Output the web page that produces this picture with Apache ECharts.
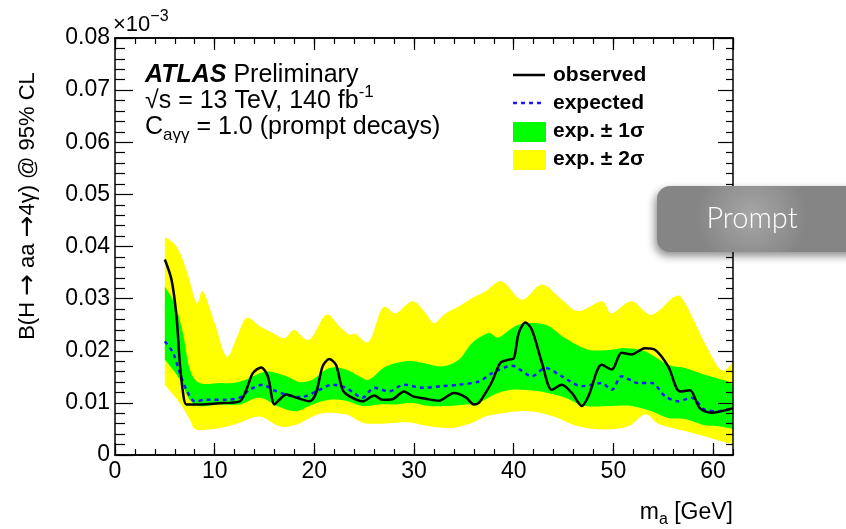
<!DOCTYPE html>
<html><head><meta charset="utf-8">
<script src="https://cdn.jsdelivr.net/npm/echarts@6/dist/echarts.min.js"></script>
<style>html,body{margin:0;padding:0;background:#fff}#c{width:846px;height:529px}</style>
</head><body><div id="c"></div>
<script>
// ---- data (x = m_a [GeV], y = branching ratio limit) ----
const xTickLabels = ['0','10','20','30','40','50','60'];
const yTickLabels = ['0','0.01','0.02','0.03','0.04','0.05','0.06','0.07','0.08'];

const yellowHi = [[5.0,0.0418],[6.17,0.0400],[7.17,0.0355],[8.17,0.0292],[8.83,0.0314],[10.0,0.0253],[11.17,0.0189],[12.2,0.0225],[13.17,0.0263],[14.5,0.0247],[15.83,0.0234],[17.0,0.0224],[18.0,0.0240],[19.5,0.0221],[21.17,0.0269],[22.5,0.0247],[23.5,0.0231],[24.17,0.0232],[25.5,0.0218],[26.83,0.0282],[28.17,0.0272],[29.83,0.0295],[31.17,0.0272],[32.0,0.0253],[33.17,0.0272],[34.5,0.0285],[35.83,0.0301],[37.17,0.0314],[38.83,0.0333],[40.83,0.0298],[42.83,0.0327],[44.83,0.0298],[46.5,0.0276],[48.83,0.0295],[49.83,0.0272],[51.83,0.0295],[53.83,0.0269],[56.17,0.0304],[57.17,0.0292],[59.17,0.0215],[60.8,0.0163],[62.0,0.0178]];
const yellowLo = [[5.0,0.0135],[6.5,0.0100],[7.5,0.0068],[8.17,0.0049],[10.5,0.0052],[12.5,0.0062],[14.5,0.0074],[16.5,0.0055],[18.17,0.0058],[19.83,0.0074],[21.17,0.0081],[23.17,0.0078],[24.83,0.0062],[26.5,0.0060],[28.17,0.0062],[29.83,0.0062],[31.5,0.0055],[33.83,0.0052],[35.83,0.0062],[37.17,0.0074],[39.17,0.0081],[41.5,0.0084],[43.83,0.0075],[46.5,0.0055],[49.17,0.0049],[51.5,0.0055],[53.2,0.0078],[54.5,0.0060],[57.17,0.0046],[59.17,0.0036],[61.0,0.0025],[62.0,0.0022]];
const greenHi = [[5.0,0.0323],[6.0,0.0290],[6.8,0.0235],[7.5,0.0165],[8.5,0.0138],[10.5,0.0138],[11.83,0.0138],[13.17,0.0145],[15.17,0.0160],[17.17,0.0151],[18.5,0.0140],[19.83,0.0145],[21.5,0.0167],[23.17,0.0164],[24.5,0.0151],[25.5,0.0145],[27.17,0.0170],[29.17,0.0180],[30.83,0.0177],[32.83,0.0170],[34.5,0.0183],[35.83,0.0215],[37.5,0.0234],[38.5,0.0226],[40.5,0.0250],[43.17,0.0250],[45.17,0.0224],[47.5,0.0202],[49.83,0.0202],[51.17,0.0205],[53.17,0.0199],[55.5,0.0173],[57.17,0.0167],[59.17,0.0154],[61.5,0.0141],[62.0,0.0132]];
const greenLo = [[5.0,0.0183],[6.5,0.0145],[7.5,0.0106],[8.5,0.0094],[10.5,0.0097],[12.5,0.0097],[14.5,0.0110],[16.5,0.0092],[18.17,0.0084],[19.83,0.0097],[21.5,0.0106],[23.17,0.0104],[24.83,0.0094],[26.5,0.0097],[28.17,0.0097],[29.83,0.0100],[31.5,0.0094],[33.17,0.0094],[35.17,0.0097],[36.5,0.0100],[38.17,0.0117],[39.83,0.0125],[41.5,0.0124],[43.17,0.0120],[45.17,0.0110],[47.17,0.0094],[49.83,0.0094],[51.83,0.0094],[53.83,0.0084],[55.5,0.0071],[57.17,0.0069],[59.17,0.0057],[60.5,0.0055],[62.0,0.0050]];
const expected = [[5.0,0.0218],[5.83,0.0196],[6.5,0.0157],[7.17,0.0125],[8.0,0.0103],[9.17,0.0106],[11.17,0.0106],[12.5,0.0110],[13.5,0.0125],[14.83,0.0135],[15.83,0.0125],[17.17,0.0116],[18.7,0.0111],[20.17,0.0122],[21.83,0.0135],[23.17,0.0129],[24.83,0.0110],[26.0,0.0129],[27.5,0.0122],[29.0,0.0135],[30.83,0.0129],[32.83,0.0132],[34.5,0.0135],[36.5,0.0141],[37.83,0.0157],[39.83,0.0171],[41.83,0.0151],[43.17,0.0167],[44.83,0.0151],[46.83,0.0132],[48.83,0.0138],[49.83,0.0125],[50.83,0.0151],[52.5,0.0138],[53.83,0.0138],[55.17,0.0113],[56.5,0.0103],[57.83,0.0110],[59.17,0.0087],[60.5,0.0084],[62.0,0.0090]];
const observed = [[5.0,0.0375],[5.67,0.0336],[6.17,0.0266],[6.5,0.0177],[6.83,0.0119],[7.17,0.0097],[8.5,0.0097],[10.17,0.0099],[12.5,0.0103],[13.17,0.0125],[13.83,0.0157],[14.67,0.0168],[15.33,0.0151],[16.0,0.0097],[16.5,0.0106],[17.17,0.0116],[18.17,0.0110],[19.5,0.0103],[20.17,0.0119],[20.83,0.0170],[21.5,0.0184],[22.17,0.0173],[22.83,0.0125],[23.5,0.0113],[24.83,0.0103],[26.0,0.0114],[26.83,0.0106],[27.83,0.0107],[29.0,0.0122],[29.83,0.0113],[31.17,0.0108],[32.5,0.0104],[34.0,0.0119],[35.17,0.0111],[36.0,0.0097],[36.5,0.0100],[37.17,0.0119],[37.83,0.0141],[38.67,0.0177],[39.5,0.0183],[40.0,0.0185],[40.5,0.0234],[41.17,0.0254],[41.83,0.0240],[42.83,0.0177],[43.83,0.0125],[44.83,0.0135],[45.83,0.0119],[46.83,0.0094],[47.5,0.0113],[48.83,0.0173],[49.83,0.0164],[50.83,0.0196],[51.83,0.0193],[53.17,0.0205],[54.17,0.0202],[55.5,0.0170],[56.67,0.0122],[57.67,0.0124],[58.67,0.0090],[59.83,0.0081],[62.0,0.0090]];

// ---- helpers ----
const FONT = '"Liberation Sans", Arial, Helvetica, sans-serif';
const ctx = document.createElement('canvas').getContext('2d');
function fontStr(s) { return (s.style||'normal') + ' ' + (s.w||'normal') + ' ' + s.size + 'px ' + (s.f||FONT); }
function tw(s) { ctx.font = fontStr(s); return ctx.measureText(s.t).width; }
function seqW(segs) { return segs.reduce((a, s) => a + tw(s), 0); }
function seq(x, y, segs, z) {
  const out = []; let cx = x;
  segs.forEach(s => {
    out.push({type:'text', x: cx, y: y + (s.dy||0), z: z||20, style:{text:s.t, fill:s.c||'#000', font:fontStr(s), verticalAlign:'middle', align:'left'}});
    cx += tw(s);
  });
  return out;
}
function crPath(pts, move) {
  let d = (move ? 'M' : 'L') + pts[0][0].toFixed(2) + ',' + pts[0][1].toFixed(2);
  for (let i = 0; i < pts.length - 1; i++) {
    const p0 = pts[i-1] || pts[i], p1 = pts[i], p2 = pts[i+1], p3 = pts[i+2] || pts[i+1];
    const k = 1/6;
    const c1 = [p1[0] + (p2[0]-p0[0])*k, p1[1] + (p2[1]-p0[1])*k];
    const c2 = [p2[0] - (p3[0]-p1[0])*k, p2[1] - (p3[1]-p1[1])*k];
    d += ' C' + c1[0].toFixed(2) + ',' + c1[1].toFixed(2) + ' ' + c2[0].toFixed(2) + ',' + c2[1].toFixed(2) + ' ' + p2[0].toFixed(2) + ',' + p2[1].toFixed(2);
  }
  return d;
}
function bandSeries(hi, lo, color, z) {
  return {type:'custom', coordinateSystem:'cartesian2d', z:z, silent:true, clip:true,
    data:[[hi[0][0], hi[0][1]]],
    renderItem: function(params, api) {
      const h = hi.map(p => api.coord(p));
      const l = lo.slice().reverse().map(p => api.coord(p));
      const d = crPath(h, true) + ' ' + crPath(l, false) + ' Z';
      return {type:'path', shape:{pathData:d}, style:{fill:color, stroke:null}};
    }};
}

const chart = echarts.init(document.getElementById('c'), null, {renderer:'canvas'});
const axLine = {show:true, onZero:false, lineStyle:{color:'#000', width:1.5}};
function xAx(pos, interval, len, labels) {
  return {type:'value', min:0, max:62, interval:interval, position:pos, z:10,
    axisLine: axLine, splitLine:{show:false},
    axisTick:{show:true, inside:true, length:len, lineStyle:{color:'#000', width:1.2}},
    axisLabel: labels ? {show:true, fontSize:23, color:'#000', fontFamily:FONT, margin:5, showMaxLabel:false,
      formatter: v => xTickLabels[Math.round(v/10)] || ''} : {show:false}};
}
function yAx(pos, lenMaj, lenMin, labels) {
  return {type:'value', min:0, max:0.08, interval:0.01, position:pos, z:10,
    axisLine: axLine, splitLine:{show:false},
    axisTick:{show:true, inside:true, length:lenMaj, lineStyle:{color:'#000', width:1.2}},
    minorTick:{show:true, splitNumber:5, length:lenMin, lineStyle:{color:'#000', width:1.2}},
    axisLabel: labels ? {show:true, fontSize:23, color:'#000', fontFamily:FONT, margin:5,
      formatter: v => yTickLabels[Math.round(v/0.01)]} : {show:false}};
}

const graphics = [];
// x10^-3
graphics.push(...seq(113, 25, [{t:'\u00d710', size:22}, {t:'\u22123', size:16, dy:-8}]));
// ATLAS block
graphics.push(...seq(145, 75, [{t:'ATLAS', size:25, w:'bold', style:'italic'}, {t:' Preliminary', size:25}]));
graphics.push(...seq(145, 101, [{t:'\u221As = 13 TeV, 140 fb', size:25}, {t:'-1', size:17, dy:-9}]));
graphics.push(...seq(145, 127, [{t:'C', size:25}, {t:'a\u03b3\u03b3', size:17, dy:8}, {t:' = 1.0 (prompt decays)', size:25}]));
// legend
graphics.push({type:'line', z:20, shape:{x1:513,y1:75,x2:545,y2:75}, style:{stroke:'#000', lineWidth:2.5}});
graphics.push({type:'line', z:20, shape:{x1:513,y1:103,x2:545,y2:103}, style:{stroke:'#1a1aff', lineWidth:2.5, lineDash:[4,4]}});
graphics.push({type:'rect', z:20, shape:{x:513,y:122,width:33,height:20}, style:{fill:'#00ff00'}});
graphics.push({type:'rect', z:20, shape:{x:513,y:150,width:33,height:20}, style:{fill:'#ffff00'}});
graphics.push(...seq(553, 75, [{t:'observed', size:21, w:'bold'}]));
graphics.push(...seq(553, 103, [{t:'expected', size:21, w:'bold'}]));
graphics.push(...seq(553, 131, [{t:'exp. \u00b1 1\u03c3', size:21, w:'bold'}]));
graphics.push(...seq(553, 159, [{t:'exp. \u00b1 2\u03c3', size:21, w:'bold'}]));
// y axis title (rotated)
(function(){
  const AR = '"DejaVu Sans", sans-serif';
  const segs = [{t:'B(H ', size:22}, {t:'\u2192', size:26, f:AR}, {t:' aa ', size:22}, {t:'\u2192', size:26, f:AR}, {t:'4\u03b3) @ 95% CL', size:22}];
  const w = seqW(segs);
  graphics.push({type:'group', x:28, y:206, rotation:Math.PI/2, z:20, children: seq(-w/2, 0, segs)});
})();
// x axis title
(function(){
  const segs = [{t:'m', size:23}, {t:'a', size:16, dy:7}, {t:' [GeV]', size:23}];
  graphics.push(...seq(733 - seqW(segs), 513, segs));
})();
// Prompt button
graphics.push({type:'rect', z:30, shape:{x:657, y:186, width:210, height:66, r:13},
  style:{fill:new echarts.graphic.RadialGradient(0.45,0.45,0.85,[{offset:0,color:'#a6a6a6'},{offset:1,color:'#858585'}]),
    shadowBlur:8, shadowColor:'rgba(0,0,0,0.45)', shadowOffsetX:-2, shadowOffsetY:4}});
graphics.push({type:'text', z:31, x:752, y:219, style:{text:'Prompt', font:'300 29px Lato, "Open Sans", sans-serif', fill:'#fff', align:'center', verticalAlign:'middle'}});

chart.setOption({
  animation:false,
  backgroundColor:'#fff',
  grid:{left:115, right:113, top:38, bottom:74, containLabel:false},
  xAxis:[xAx('bottom',10,12,true), xAx('bottom',2,6,false), xAx('top',10,12,false), xAx('top',2,6,false)],
  yAxis:[yAx('left',18,10,true), yAx('right',15,7,false)],
  series:[
    bandSeries(yellowHi, yellowLo, '#ffff00', 1),
    bandSeries(greenHi, greenLo, '#00ff00', 2),
    {type:'line', data:expected, smooth:0.3, showSymbol:false, z:3, silent:true,
      lineStyle:{color:'#1a1aff', width:2.5, type:[4,4]}},
    {type:'line', data:observed, smooth:0.3, showSymbol:false, z:4, silent:true,
      lineStyle:{color:'#000', width:2.5}}
  ],
  graphic:graphics
});
</script></body></html>
